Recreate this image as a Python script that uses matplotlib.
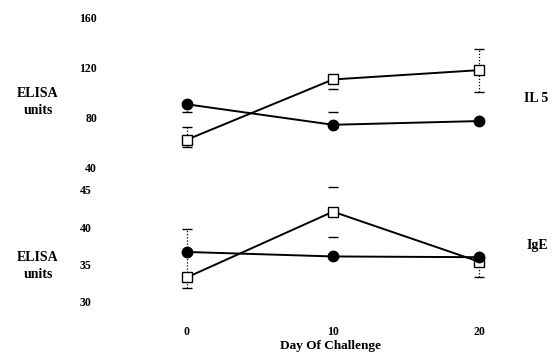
import numpy as np
import matplotlib
matplotlib.use('Agg')
import matplotlib.pyplot as plt

plt.rcParams['font.family'] = 'Liberation Serif'
plt.rcParams['font.weight'] = 'bold'

days = [0, 10, 20]

# IL 5 panel  (errors: lower, upper)
il5_filled = [90.5, 74, 77]
il5_filled_lo = [6, 0, 0]
il5_filled_hi = [0, 10.5, 0]
il5_open = [62, 110.5, 118]
il5_open_lo = [6, 8, 18]
il5_open_hi = [10, 0, 17]
il5_ticks = [40, 80, 120, 160]

# IgE panel
ige_filled = [36.7, 36.1, 36.0]
ige_filled_lo = [0, 0, 0]
ige_filled_hi = [0, 0, 0]
ige_open = [33.3, 42.1, 35.4]
ige_open_lo = [1.4, 3.4, 2.0]
ige_open_hi = [6.5, 3.3, 0]
ige_ticks = [30, 35, 40, 45]

# which days show the dotted vertical bar (day 10 shows caps only)
show_bar = [True, False, True]

W, H = 559, 353
fig = plt.figure(figsize=(W / 100, H / 100), dpi=100)

def px_axes(left, top, right, bottom):
    return fig.add_axes([left / W, 1 - bottom / H, (right - left) / W, (bottom - top) / H])

xlim = (-2.53, 22.12)

def errs(ax, y, lo, hi):
    for d, v, l, h, bar in zip(days, y, lo, hi, show_bar):
        if l == 0 and h == 0:
            continue
        if bar:
            ax.plot([d, d], [v - l, v + h], color='black', lw=0.9, ls=(0, (1, 1.5)),
                    clip_on=False)
        for e in (v - l if l else None, v + h if h else None):
            if e is not None:
                ax.plot(d, e, marker='_', ms=7, mew=1.0, color='black', clip_on=False)

def panel(ax, filled, flo, fhi, opened, olo, ohi, ticks, ylim, pad):
    errs(ax, opened, olo, ohi)
    errs(ax, filled, flo, fhi)
    ax.plot(days, opened, color='black', lw=1.4, marker='s', ms=6.5,
            mfc='white', mec='black', mew=1.0, clip_on=False)
    ax.plot(days, filled, color='black', lw=1.4, marker='o', ms=7.5,
            mfc='black', mec='black', clip_on=False)
    ax.set_xlim(*xlim)
    ax.set_ylim(*ylim)
    ax.set_yticks(ticks)
    ax.set_yticklabels([str(t) for t in ticks], fontsize=8.5, fontweight='bold')
    ax.tick_params(axis='y', length=0, pad=pad)
    for s in ax.spines.values():
        s.set_visible(False)
    ax.patch.set_alpha(0)

ax1 = px_axes(150, 18, 510, 167)
panel(ax1, il5_filled, il5_filled_lo, il5_filled_hi, il5_open, il5_open_lo, il5_open_hi,
      il5_ticks, (40, 160), 38)
ax1.set_xticks([])

ax2 = px_axes(150, 190, 510, 302)
panel(ax2, ige_filled, ige_filled_lo, ige_filled_hi, ige_open, ige_open_lo, ige_open_hi,
      ige_ticks, (30, 45), 42)
ax2.set_xticks(days)
ax2.set_xticklabels([str(d) for d in days], fontsize=8.5, fontweight='bold')
ax2.tick_params(axis='x', length=0, pad=17)

fig.text(330 / W, 1 - 346 / H, 'Day Of Challenge', ha='center', va='center',
         fontsize=9.5, fontweight='bold')
fig.text(38 / W, 1 - 102 / H, 'ELISA\nunits', ha='center', va='center',
         fontsize=10, fontweight='bold', linespacing=1.45)
fig.text(38 / W, 1 - 266 / H, 'ELISA\nunits', ha='center', va='center',
         fontsize=10, fontweight='bold', linespacing=1.45)
fig.text(524 / W, 1 - 99 / H, 'IL 5', ha='left', va='center', fontsize=10, fontweight='bold')
fig.text(527 / W, 1 - 245 / H, 'IgE', ha='left', va='center', fontsize=10, fontweight='bold')

fig.savefig('out.png', dpi=100)
